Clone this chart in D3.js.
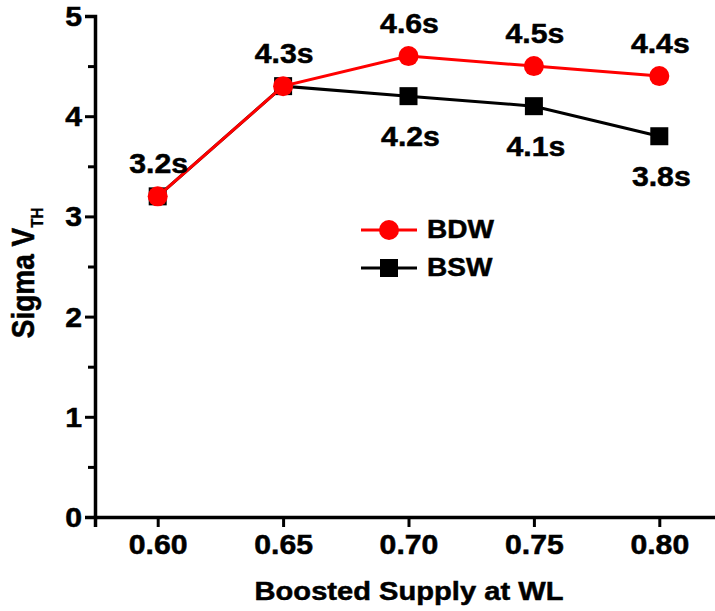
<!DOCTYPE html>
<html>
<head>
<meta charset="utf-8">
<script src="https://cdn.jsdelivr.net/npm/d3@7"></script>
<style>
  body { margin: 0; background: #fff; }
  svg text { font-family: "Liberation Sans", Arial, sans-serif; font-weight: bold; fill: #000; stroke: #000; stroke-width: 0.5px; }
</style>
</head>
<body>
<svg width="715" height="611"></svg>
<script>
// boosted supply vs sigma VTH
const supply = [0.60, 0.65, 0.70, 0.75, 0.80];
const bdw = [3.2, 4.3, 4.6, 4.5, 4.4];
const bsw = [3.2, 4.3, 4.2, 4.1, 3.8];
const bdwLabels = ["3.2s", "4.3s", "4.6s", "4.5s", "4.4s"];
const bswLabels = ["", "", "4.2s", "4.1s", "3.8s"];
const xTicks = [0.60, 0.65, 0.70, 0.75, 0.80];
const yTicks = [0, 1, 2, 3, 4, 5];

const svg = d3.select("svg");
const sx = 1.12; // text in the source is a bit wide

const x = d3.scaleLinear().domain([0.575, 0.825]).range([95, 722]);
const y = d3.scaleLinear().domain([0, 5]).range([517, 16]);

// places a wide text at (px, py)
function wideText(px, py, size, str, anchor) {
  return svg.append("text")
    .attr("transform", `translate(${px},${py}) scale(${sx},1)`)
    .attr("text-anchor", anchor || "middle")
    .attr("font-size", size).text(str);
}

// axes
const xAxis = svg.append("g").attr("transform", "translate(0,517)")
  .call(d3.axisBottom(x).tickValues(xTicks).tickFormat(d3.format(".2f")).tickSize(10).tickPadding(8));
const yAxis = svg.append("g").attr("transform", "translate(95,0)")
  .call(d3.axisLeft(y).tickValues(yTicks).tickFormat(d3.format("d")).tickSize(10).tickPadding(13));
// minor ticks
svg.append("g").attr("transform", "translate(95,0)")
  .call(d3.axisLeft(y).tickValues(d3.range(0.5, 5, 1)).tickFormat("").tickSize(7))
  .call(g => g.select(".domain").remove());

svg.selectAll(".domain").attr("stroke-width", 3.5).attr("stroke", "#000");
svg.selectAll(".tick line").attr("stroke-width", 3).attr("stroke", "#000");
xAxis.selectAll("text").attr("font-size", 27).attr("dy", "0.71em")
  .attr("transform", `scale(${sx},1)`);
yAxis.selectAll("text").attr("font-size", 27).attr("dy", "0.35em")
  .attr("transform", `translate(-13,0) scale(${sx},1)`).attr("x", 0);
svg.selectAll(".tick text").style("font-family", "'Liberation Sans', Arial, sans-serif").style("font-weight", "bold").attr("fill", "#000");

// axis titles
wideText(409, 600, 26, "Boosted Supply at WL");
const yl = svg.append("text").attr("transform", "translate(34,273) rotate(-90) scale(1,1.1)")
  .attr("text-anchor", "middle").attr("font-size", 28);
yl.append("tspan").text("Sigma V");
yl.append("tspan").attr("font-size", 15).attr("dy", 8).attr("stroke-width", 0.3).text("TH");

// lines
const line = d3.line().x((d, i) => x(supply[i])).y(d => y(d));

svg.append("path").datum(bsw).attr("d", line)
  .attr("fill", "none").attr("stroke", "#000").attr("stroke-width", 3);
svg.selectAll(".sq").data(bsw).enter().append("rect")
  .attr("x", (d, i) => x(supply[i]) - 9).attr("y", d => y(d) - 9)
  .attr("width", 18).attr("height", 18).attr("fill", "#000");

svg.append("path").datum(bdw).attr("d", line)
  .attr("fill", "none").attr("stroke", "#ff0000").attr("stroke-width", 3);
svg.selectAll(".dot").data(bdw).enter().append("circle")
  .attr("cx", (d, i) => x(supply[i])).attr("cy", d => y(d))
  .attr("r", 10).attr("fill", "#ff0000");

// value labels
bdw.forEach((d, i) => wideText(x(supply[i]) + 1, y(d) - 23, 27, bdwLabels[i]));
bsw.forEach((d, i) => { if (bswLabels[i]) wideText(x(supply[i]) + 2, y(d) + 50, 27, bswLabels[i]); });

// legend
const legend = svg.append("g").attr("transform", "translate(361,230)");
legend.append("line").attr("x1", 0).attr("x2", 56).attr("stroke", "#ff0000").attr("stroke-width", 3);
legend.append("circle").attr("cx", 28).attr("r", 10).attr("fill", "#ff0000");
legend.append("text").attr("transform", `translate(66,8) scale(${sx},1)`).attr("font-size", 25).text("BDW");
legend.append("line").attr("x1", 0).attr("x2", 56).attr("y1", 38).attr("y2", 38).attr("stroke", "#000").attr("stroke-width", 3);
legend.append("rect").attr("x", 19).attr("y", 29).attr("width", 18).attr("height", 18).attr("fill", "#000");
legend.append("text").attr("transform", `translate(66,46) scale(${sx},1)`).attr("font-size", 25).text("BSW");
</script>
</body>
</html>
